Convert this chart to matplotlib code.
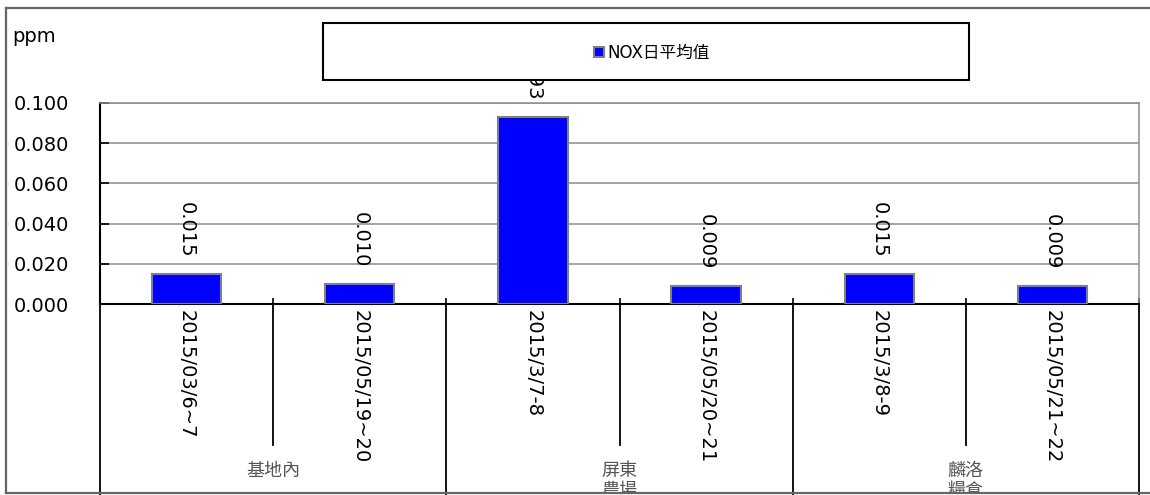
import numpy as np
import matplotlib
matplotlib.use('Agg')
import matplotlib.pyplot as plt
import matplotlib.transforms as mtransforms
from matplotlib.patches import Rectangle
from matplotlib.lines import Line2D

plt.rcParams['font.family'] = ['DejaVu Sans', 'Noto Sans CJK TC']

dates = ['2015/03/6~7', '2015/05/19~20', '2015/3/7-8', '2015/05/20~21', '2015/3/8-9', '2015/05/21~22']
nox = [0.015, 0.010, 0.093, 0.009, 0.015, 0.009]
groups = ['基地內', '屏東\n農場', '麟洛\n糧倉']
group_pos = [0.5, 2.5, 4.5]
yticks = [0.0, 0.02, 0.04, 0.06, 0.08, 0.10]

W, H = 1150, 495
fig = plt.figure(figsize=(W / 100, H / 100), dpi=100)
ax = fig.add_axes([100 / W, (H - 304) / H, (1139 - 100) / W, (304 - 103) / H])

x = np.arange(len(dates))
bars = ax.bar(x, nox, width=0.4, color='#0000ff', edgecolor='#808080', linewidth=1.5,
              label='NOX日平均值', zorder=3)

ax.set_xlim(-0.5, len(dates) - 0.5)
ax.set_ylim(0, 0.1)
ax.set_yticks(yticks)
ax.set_yticklabels(['%.3f' % v for v in yticks], fontsize=14)
ax.yaxis.grid(True, color='#8c8c8c', linewidth=1.1, zorder=0)
ax.tick_params(axis='y', direction='in', length=6.5, width=1.2, pad=22)

# date labels under each bar
ax.set_xticks(x)
ax.set_xticklabels(dates, rotation=270, fontsize=14, va='top', ha='center')
ax.tick_params(axis='x', which='major', length=0, pad=4)
bounds = np.arange(-0.5, len(dates), 1.0)
ax.set_xticks(bounds, minor=True)
ax.tick_params(axis='x', which='minor', direction='in', length=4.5, width=1.2)

for s in ['left', 'bottom']:
    ax.spines[s].set_color('black')
    ax.spines[s].set_linewidth(1.5)
for s in ['top', 'right']:
    ax.spines[s].set_color('#8c8c8c')
    ax.spines[s].set_linewidth(1.1)

# value labels
for xi, v in zip(x, nox):
    ax.annotate('%.3f' % v, (xi, v), xytext=(0, 12), textcoords='offset points',
                rotation=270, ha='center', va='bottom', fontsize=14,
                annotation_clip=False)

# category separators below the axis
trans = mtransforms.blended_transform_factory(ax.transData, ax.transAxes)
for i, b in enumerate(bounds):
    yend = -0.70 if i % 2 == 1 else -0.96
    ax.plot([b, b], [0, yend], transform=trans, clip_on=False, color='black', lw=1.3)

# group labels (second line cut by the chart frame, as in the source)
clip = mtransforms.TransformedBbox(mtransforms.Bbox([[0, 2.5 / H], [1, 1]]), fig.transFigure)
for gx, g in zip(group_pos, groups):
    t = ax.text(gx, -0.785, g, transform=trans, ha='center', va='top', fontsize=13,
                color='#555555', linespacing=1.15, clip_on=True)
    t.set_clip_box(clip)

fig.text(12 / W, (H - 36) / H, 'ppm', fontsize=14, ha='left', va='center')

# legend box
fig.patches.append(Rectangle((323 / W, (H - 80) / H), (969 - 323) / W, 57 / H,
                             transform=fig.transFigure, facecolor='white',
                             edgecolor='black', linewidth=1.5, zorder=2))
fig.legend(handles=[bars], labels=['NOX日平均值'], loc='center',
           bbox_to_anchor=(652 / W, (H - 53) / H), frameon=False, fontsize=12,
           handlelength=0.6, handleheight=0.6, handletextpad=0.2, borderpad=0)

# outer chart border
for xs, ys in [([6, 1160], [8, 8]), ([6, 6], [8, 493]), ([6, 1160], [493, 493])]:
    fig.lines.append(Line2D([v / W for v in xs], [(H - v) / H for v in ys],
                            transform=fig.transFigure, color='#666666', lw=1.6))

fig.savefig('out.png', dpi=100)
